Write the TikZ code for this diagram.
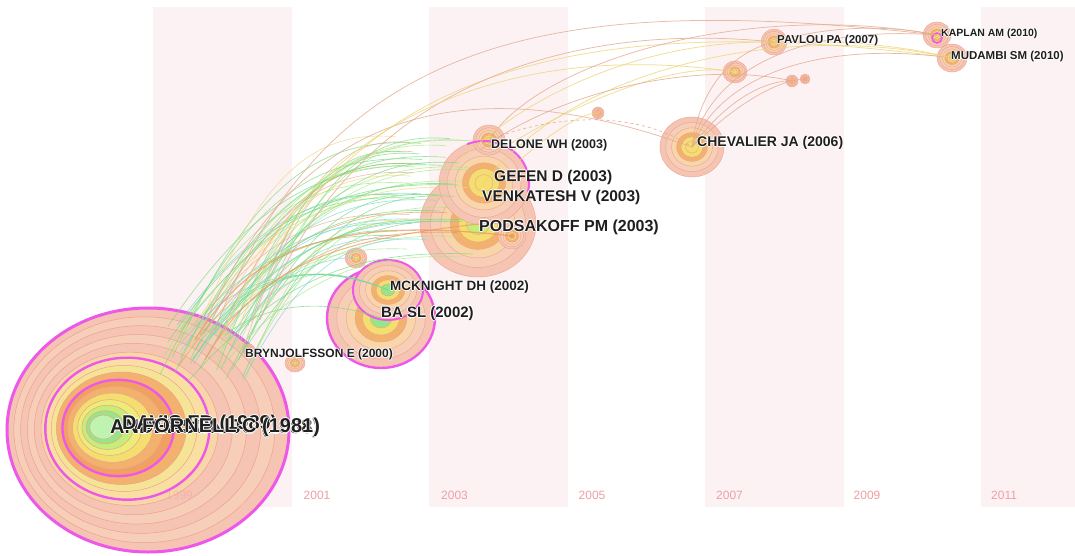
\documentclass[tikz,border=0pt]{standalone}
\usepackage{fontspec}
\setmainfont{Liberation Sans}
\definecolor{band}{RGB}{253,242,243}
\definecolor{yearc}{RGB}{236,160,165}
\definecolor{mag}{RGB}{238,88,232}
\definecolor{salm}{RGB}{246,196,178}
\definecolor{salm2}{RGB}{247,206,184}
\definecolor{salmline}{RGB}{236,162,144}
\definecolor{peach}{RGB}{248,214,170}
\definecolor{peach2}{RGB}{249,224,162}
\definecolor{yelpale}{RGB}{246,228,150}
\definecolor{orng}{RGB}{242,178,110}
\definecolor{orng2}{RGB}{240,160,96}
\definecolor{yel}{RGB}{244,222,112}
\definecolor{yel2}{RGB}{236,236,120}
\definecolor{ygrn}{RGB}{198,236,122}
\definecolor{grn}{RGB}{150,230,135}
\definecolor{lgrn}{RGB}{190,244,176}
\definecolor{eg1}{RGB}{110,220,120}
\definecolor{eg2}{RGB}{165,232,130}
\definecolor{ecy}{RGB}{120,212,214}
\definecolor{eor}{RGB}{236,150,90}
\definecolor{esa}{RGB}{228,170,144}
\definecolor{eye}{RGB}{236,214,120}
\tikzset{
  lbl/.style={anchor=west, inner sep=0pt, text=black!88},
  yearlbl/.style={anchor=west, inner sep=0pt, text=yearc, font=\fontsize{12}{12}\selectfont},
  bandbox/.style={fill=band, draw=none},
  edge/.style={line width=0.65pt, opacity=0.7},
  longedge/.style={line width=0.75pt, opacity=0.8},
  magring/.style={draw=mag, line width=2.4pt},
}
\newcommand\halotext[1]{%
  \makebox[0pt][l]{\color{white}\hspace*{-0.9pt}#1}%
  \makebox[0pt][l]{\color{white}\hspace*{0.9pt}#1}%
  \makebox[0pt][l]{\color{white}\raisebox{0.9pt}{#1}}%
  \makebox[0pt][l]{\color{white}\raisebox{-0.9pt}{#1}}%
  #1}
\newcommand\fs[1]{\fontsize{#1}{#1}\selectfont\bfseries}
\newcommand\citnode[6]{%
  \foreach \f/\c in {1/salm,0.82/salm2,0.64/peach,0.48/orng,0.34/yel,0.2/#6} {
    \fill[\c, draw=salmline, line width=0.4pt] (#2,#3) ellipse [x radius={\f*#4}, y radius={\f*#5}];
  }
  \coordinate (#1) at (#2,#3);
}
\begin{document}
\begin{tikzpicture}[x=1pt,y=-1pt]
\useasboundingbox (0,0) rectangle (1075,556);
\fill[white] (0,0) rectangle (1075,556);
% year bands
\foreach \bx in {153,429,705} {
  \fill[bandbox] (\bx,7) rectangle ++(139,500);
}
\fill[bandbox] (981,7) rectangle (1075,507);

% big cluster (FORNELL / DAVIS / ANDERSON)
\foreach \t/\c in {0/salm,0.08/salm2,0.16/salm,0.24/salm2,0.32/salm,0.40/peach,0.45/peach2,0.52/yelpale,0.58/orng,0.65/orng2,0.71/orng,0.77/yel,0.83/yel2,0.88/ygrn,0.93/grn,0.97/lgrn} {
  \pgfmathsetmacro\cx{148-46*\t}
  \pgfmathsetmacro\cy{430-3*\t}
  \fill[\c, draw=salmline, line width=0.5pt] (\cx,\cy) ellipse [x radius={141*(1-0.93*\t)}, y radius={122*(1-0.93*\t)}];
}
\draw[magring, line width=3pt] (148,430) ellipse [x radius=141, y radius=122];
\draw[magring] (127.3,428.7) ellipse [x radius=82, y radius=71];
\draw[magring] (118.1,428) ellipse [x radius=55.7, y radius=48.2];
\coordinate (fornell) at (105,428);

% small nodes near 2000
\citnode{bryn}{295}{363}{10}{9}{ygrn}
\citnode{bryn2}{249}{350}{6}{6}{lgrn}
\citnode{smally}{356}{258}{11}{10}{yel}

% 2002 cluster
\citnode{ba}{381}{318}{54}{50}{grn}
\draw[magring] (381,318) ellipse [x radius=54, y radius=50];
\citnode{mcknight}{388}{290}{35}{30}{grn}
\draw[magring, line width=2pt] (388,290) ellipse [x radius=35, y radius=30];

% 2003 cluster
\citnode{podsakoff}{478}{224}{58}{53}{ygrn}
\citnode{gefen}{484}{183}{45}{42}{yel}
\citnode{venk}{512}{236}{14}{13}{orng2}
\citnode{delone}{489}{140}{16}{15}{yel}
\draw[draw=mag, line width=2pt] ([shift={(-112:45 and 42)}]484,183) arc [start angle=-112, end angle=12, x radius=45, y radius=42];

% later nodes
\citnode{small03}{598}{113}{6}{6}{yel}
\citnode{chev}{692}{147}{32}{30}{yel}
\citnode{pavlou}{774}{42}{13}{13}{yel}
\citnode{yel07}{735}{72}{12}{11}{yel}
\citnode{s1}{792}{81}{6}{6}{orng}
\citnode{s2}{805}{79}{5}{5}{orng}
\citnode{kaplan}{937}{35}{14}{13}{yel}
\draw[draw=mag, line width=1.5pt] (937,38) ellipse [x radius=5, y radius=5];
\citnode{mudambi}{952}{58}{15}{14}{yel}

% edge bundle 1999-2000 -> 2002-2003
\pgfmathsetseed{11}
\foreach \c in {eg1,eg2,eg1,ecy,eg1,eor,eg2,eg1,esa,eg1,eg2,ecy,eg1,eye,eg1,eg2,eor,eg1,eg2,ecy,eg1,esa,eg2,eg1,eg1,eye,eg2,eg1,ecy,eor,eg1,eg2,eg1,esa,eg2,eg1,ecy,eg1,eg2,eye,eg1,eg2,eg1,ecy,eg2,eg1,esa,eg1,eg2,eg1,ecy,eg1,eye,eg2} {
  \pgfmathsetmacro\sx{160+100*rnd}
  \pgfmathsetmacro\sy{322+60*rnd}
  \pgfmathsetmacro\ex{395+80*rnd}
  \pgfmathsetmacro\ey{135+125*rnd}
  \pgfmathsetmacro\cax{\sx+0.3*(\ex-\sx)}
  \pgfmathsetmacro\cay{\sy-0.75*(\sy-\ey)}
  \pgfmathsetmacro\cbx{\sx+0.55*(\ex-\sx)}
  \pgfmathsetmacro\cby{\ey-0.04*(\sy-\ey)}
  \draw[edge, \c] (\sx,\sy) .. controls (\cax,\cay) and (\cbx,\cby) .. (\ex,\ey);
}
% edges to 2002 nodes
\foreach \sx/\sy/\c in {180/345/ecy,200/335/eg1,215/330/eg2,230/340/ecy,195/350/eg1} {
  \draw[edge, \c] (\sx,\sy) .. controls (\sx+50,275) and (310,258) .. (mcknight);
}
\draw[edge, ecy] (210,338) .. controls (260,285) and (320,255) .. (smally);
\draw[edge, eg1] (225,335) .. controls (270,300) and (330,300) .. (ba);
% thick orange edges
\draw[edge, eor, line width=1.3pt] (195,340) .. controls (250,250) and (330,215) .. (venk);
\draw[edge, eor, line width=1pt] (205,360) .. controls (260,262) and (340,240) .. (podsakoff);

% long arcs to the right
\draw[longedge, esa] (215,330) .. controls (330,20) and (580,-5) .. (kaplan);
\draw[longedge, eye] (240,325) .. controls (340,60) and (600,10) .. (mudambi);
\draw[longedge, esa] (260,320) .. controls (350,90) and (560,20) .. (pavlou);
\draw[longedge, esa] (200,335) .. controls (290,120) and (450,60) .. (chev);
\draw[longedge, eye] (225,330) .. controls (310,110) and (520,40) .. (yel07);
\draw[longedge, esa] (delone) .. controls (540,60) and (750,0) .. (kaplan);
\draw[longedge, eye] (gefen) .. controls (570,70) and (780,20) .. (mudambi);
\draw[longedge, eye] (455,165) .. controls (530,90) and (650,40) .. (pavlou);
\draw[longedge, eye] (500,150) .. controls (580,100) and (680,60) .. (yel07);
\draw[longedge, esa] (480,150) .. controls (560,90) and (700,60) .. (s1);
\draw[longedge, esa, dashed] (delone) .. controls (560,112) and (640,112) .. (chev);
\draw[longedge, eye] (520,160) .. controls (560,125) and (585,113) .. (small03);
% from CHEVALIER
\draw[longedge, esa] (chev) .. controls (710,70) and (800,25) .. (kaplan);
\draw[longedge, esa] (chev) .. controls (720,75) and (820,40) .. (mudambi);
\draw[longedge, esa] (chev) .. controls (700,80) and (740,50) .. (pavlou);
\draw[longedge, esa] (chev) .. controls (730,95) and (770,80) .. (s1);
\draw[longedge, esa] (chev) .. controls (740,100) and (780,80) .. (s2);
% from PAVLOU
\draw[longedge, esa] (pavlou) .. controls (830,25) and (890,25) .. (kaplan);
\draw[longedge, eye] (pavlou) .. controls (840,40) and (900,45) .. (mudambi);

% year labels
\node[yearlbl, opacity=0.45] (y1999) at (166,495) {1999};
\node[yearlbl] (y2001) at (303.5,495) {2001};
\node[yearlbl] (y2003) at (441,495) {2003};
\node[yearlbl] (y2005) at (578.5,495) {2005};
\node[yearlbl] (y2007) at (716,495) {2007};
\node[yearlbl] (y2009) at (853.5,495) {2009};
\node[yearlbl] (y2011) at (991,495) {2011};

% labels
\node[lbl, font=\fs{20}] (lAnd) at (110,428) {\halotext{ANDERSON JC (1988)}};
\node[lbl, font=\fs{20}] (lDav) at (122,424) {\halotext{DAVIS FD (1989)}};
\node[lbl, font=\fs{20}] (lFor) at (142,427) {\halotext{FORNELL C (1981)}};
\node[lbl, font=\fs{12}] (lBry) at (245,354) {\halotext{BRYNJOLFSSON E (2000)}};
\node[lbl, font=\fs{13.5}] (lMck) at (390,287) {\halotext{MCKNIGHT DH (2002)}};
\node[lbl, font=\fs{15}] (lBa) at (381,314) {\halotext{BA SL (2002)}};
\node[lbl, font=\fs{12.5}] (lDel) at (491,145) {\halotext{DELONE WH (2003)}};
\node[lbl, font=\fs{15.5}] (lGef) at (494,177) {\halotext{GEFEN D (2003)}};
\node[lbl, font=\fs{15.5}] (lVen) at (482,197) {\halotext{VENKATESH V (2003)}};
\node[lbl, font=\fs{16}] (lPod) at (479,227) {\halotext{PODSAKOFF PM (2003)}};
\node[lbl, font=\fs{14}] (lChe) at (697,143) {\halotext{CHEVALIER JA (2006)}};
\node[lbl, font=\fs{11.5}] (lPav) at (777,41) {\halotext{PAVLOU PA (2007)}};
\node[lbl, font=\fs{10.5}] (lKap) at (941,34) {\halotext{KAPLAN AM (2010)}};
\node[lbl, font=\fs{11.5}] (lMud) at (951,57) {\halotext{MUDAMBI SM (2010)}};
\end{tikzpicture}
\end{document}
